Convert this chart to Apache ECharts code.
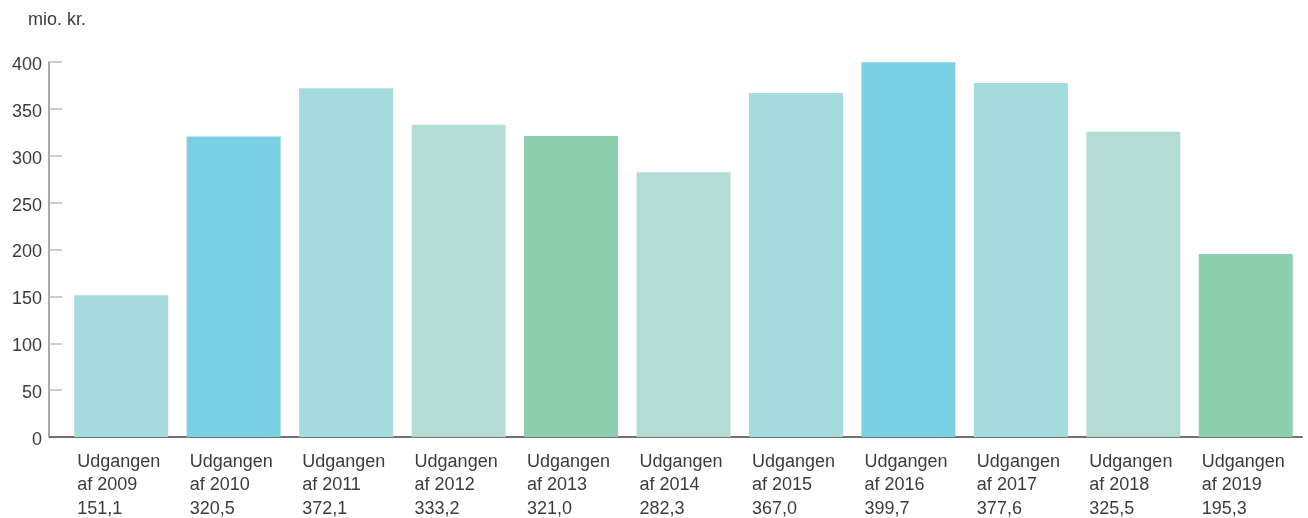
<!DOCTYPE html>
<html>
<head>
<meta charset="utf-8">
<script src="https://cdn.jsdelivr.net/npm/echarts@6/dist/echarts.min.js"></script>
<style>
  html, body { margin: 0; padding: 0; background: #fff; }
  #chart { width: 1308px; height: 518px; }
</style>
</head>
<body>
<div id="chart"></div>
<script>
// data
const years = ['2009', '2010', '2011', '2012', '2013', '2014', '2015', '2016', '2017', '2018', '2019'];
const values = [151.1, 320.5, 372.1, 333.2, 321.0, 282.3, 367.0, 399.7, 377.6, 325.5, 195.3];
const barColors = ['#a5dbdc', '#7bd1e4', '#a5dbdc', '#b3ddd4', '#8ecfb0', '#b3ddd4',
                   '#a5dbdc', '#7bd1e4', '#a5dbdc', '#b3ddd4', '#8ecfb0'];
const yTicks = [0, 50, 100, 150, 200, 250, 300, 350, 400];

const fmt = v => v.toFixed(1).replace('.', ',');
const font = '"Liberation Sans", Arial, sans-serif';
const textColor = '#3c3c3c';

const chart = echarts.init(document.getElementById('chart'));
chart.setOption({
  animation: false,
  textStyle: { fontFamily: font },
  graphic: [
    {
      type: 'text', left: 28, top: 11, z: 100,
      style: { text: 'mio. kr.', font: '18px ' + font, fill: textColor }
    },
    {
      // baseline continues left to the y axis line
      type: 'line', z: 100,
      shape: { x1: 49, y1: 437, x2: 67, y2: 437 },
      style: { stroke: '#707070', lineWidth: 2 }
    }
  ],
  grid: { left: 65, right: 6, top: 62, bottom: 81 },
  xAxis: {
    type: 'category',
    data: years,
    axisLine: { lineStyle: { color: '#707070', width: 2 } },
    axisTick: { show: false },
    axisLabel: {
      interval: 0,
      margin: 13,
      formatter: (y, i) => '{a|Udgangen}\n{a|af ' + y + '}\n{a|' + fmt(values[i]) + '}',
      rich: {
        a: { width: 88, align: 'left', fontSize: 18, lineHeight: 23.5, color: textColor, fontFamily: font }
      }
    }
  },
  yAxis: {
    type: 'value',
    min: yTicks[0],
    max: yTicks[yTicks.length - 1],
    interval: 50,
    offset: 16,
    axisLine: { show: true, lineStyle: { color: '#8a8a8a', width: 1.5 } },
    axisTick: { show: true, inside: true, length: 13, lineStyle: { color: '#bdbdbd', width: 1.5 } },
    splitLine: { show: false },
    axisLabel: {
      margin: 7,
      formatter: '{v|{value}}',
      rich: {
        v: { fontSize: 18, color: textColor, fontFamily: font, padding: [6, 0, 0, 0] }
      }
    }
  },
  series: [{
    type: 'bar',
    barWidth: 94,
    data: values.map((v, i) => ({ value: v, itemStyle: { color: barColors[i] } }))
  }]
});
</script>
</body>
</html>
